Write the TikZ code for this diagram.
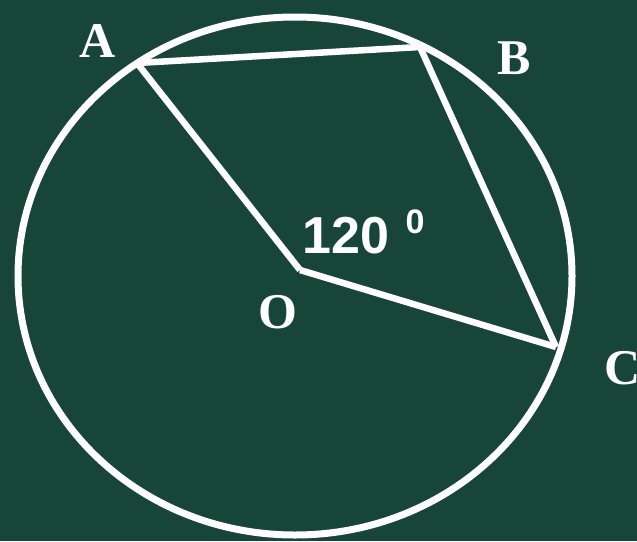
\documentclass[tikz,border=0pt]{standalone}
\usepackage{fontspec}
\setmainfont{Liberation Serif}
\newfontfamily\numfont{Liberation Sans}
\definecolor{board}{RGB}{23,69,56}
\begin{document}
\begin{tikzpicture}[x=1pt,y=-1pt,
  seg/.style={draw=white,line width=6.5pt},
  lbl/.style={text=white,inner sep=0pt,font=\fontsize{50}{50}\selectfont\bfseries},
  num/.style={text=white,inner sep=0pt,font=\fontsize{52}{52}\selectfont\numfont\bfseries},
  sup/.style={text=white,inner sep=0pt,font=\fontsize{34}{34}\selectfont\numfont\bfseries}]
\fill[board] (0,0) rectangle (637,541);
\useasboundingbox (0,0) rectangle (637,541);
\begin{scope}
\clip (0,0) rectangle (637,541);
\draw[white,line width=7pt] (295,276) ellipse [x radius=277, y radius=259];
\coordinate (O) at (300,270);
\coordinate (A) at (137,63);
\coordinate (B) at (420,47);
\coordinate (C) at (556,347);
\draw[seg] (O) -- (A);
\draw[seg] (A) -- (B);
\draw[seg] (B) -- (C);
\draw[seg] (C) -- (O);
\node[lbl] (la) at (98,41) {A};
\node[lbl] (lb) at (514,58) {B};
\node[lbl] (lc) at (623,368) {C};
\node[lbl] (lo) at (278,312) {O};
\node[num] (ang) at (346,236) {120};
\node[sup] (deg) at (415,222) {0};
\end{scope}
\end{tikzpicture}
\end{document}
